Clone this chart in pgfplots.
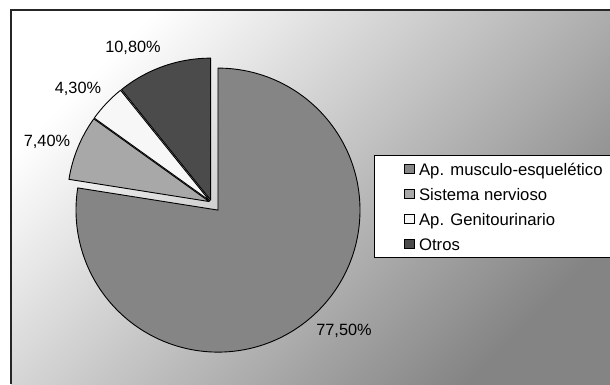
\documentclass[border=0pt]{standalone}
\usepackage{pgfplots}
\pgfplotsset{compat=1.18}
\usepackage{pgfplotstable}
\usepackage{fontspec}
\setmainfont{Liberation Sans}
\definecolor{cmain}{HTML}{858585}
\definecolor{cnerv}{HTML}{A8A8A8}
\definecolor{cgen}{HTML}{F7F7F7}
\definecolor{cotr}{HTML}{4B4B4B}
\definecolor{bgdark}{HTML}{848484}
\newcommand\pctfont{\fontsize{16.3bp}{20bp}\selectfont}
\newcommand\legfont{\fontsize{16.7bp}{20bp}\selectfont}
\newcommand\legtext[1]{\makebox[200bp][l]{\legfont #1}}

\pgfplotstableread{
name value explode col lx ly
main 77.5 10 cmain 344 53
nerv 7.4 2.5 cnerv 47 242
gen 4.3 2.5 cgen 78 295
otr 10.8 2.5 cotr 133 336
}\piedata

\begin{document}
\begin{tikzpicture}
\begin{axis}[
  width=610bp, height=384bp, scale only axis,
  xmin=0, xmax=610, ymin=0, ymax=384,
  hide axis, clip=false,
  legend style={at={(374/610,229/384)}, anchor=north west, draw=black, line width=0.8bp,
    fill=white, font=\legfont, inner xsep=4bp, inner ysep=1bp, row sep=0bp, column sep=5bp,
    nodes={inner sep=0pt, text height=19.5bp, text depth=5.5bp}},
  legend cell align=left,
  legend image code/.code={\path (-25bp,0bp); \draw[#1,draw=black,line width=0.6bp] (0bp,-4.5bp) rectangle (10bp,4.5bp);},
]
\coordinate (ll) at (axis cs:0,0);
\coordinate (ur) at (axis cs:610,384);
\fill[white] (axis cs:0,0) rectangle (axis cs:610,384);
\fill[top color=white, bottom color=bgdark, shading angle=45] (axis cs:11,0) rectangle (axis cs:610,374);
\draw[line width=1.5bp, black!85] (axis cs:11,0) -- (axis cs:11,374) -- (axis cs:610,374);
\def\cum{0}
\pgfplotsforeachungrouped \i in {0,1,2,3}{%
  \pgfplotstablegetelem{\i}{value}\of\piedata \let\pval\pgfplotsretval
  \pgfplotstablegetelem{\i}{explode}\of\piedata \let\pex\pgfplotsretval
  \pgfplotstablegetelem{\i}{col}\of\piedata \let\pcol\pgfplotsretval
  \pgfplotstablegetelem{\i}{lx}\of\piedata \let\plx\pgfplotsretval
  \pgfplotstablegetelem{\i}{ly}\of\piedata \let\ply\pgfplotsretval
  \pgfmathsetmacro\sa{90-3.6*\cum}%
  \pgfmathsetmacro\ea{90-3.6*(\cum+\pval)}%
  \pgfmathsetmacro\ma{(\sa+\ea)/2}%
  \pgfmathsetmacro\cx{211.5+\pex*cos(\ma)}%
  \pgfmathsetmacro\cy{181.5+\pex*sin(\ma)}%
  \edef\temp{\noexpand\filldraw[fill=\pcol, draw=black, line width=0.9bp, line join=round]
    (axis cs:\cx,\cy) -- ++(\sa:142bp) arc[start angle=\sa, end angle=\ea, radius=142bp] -- cycle;
    \noexpand\node[font=\noexpand\pctfont] at (axis cs:\plx,\ply)
    {\noexpand\pgfmathprintnumber[fixed,fixed zerofill,precision=2,use comma,assume math mode=true]{\pval}\noexpand\%};}%
  \temp
  \pgfmathsetmacro\cum{\cum+\pval}%
}
\addlegendimage{fill=cmain}\addlegendentry{\legtext{Ap. musculo-esquelético}}
\addlegendimage{fill=cnerv}\addlegendentry{\legtext{Sistema nervioso}}
\addlegendimage{fill=cgen}\addlegendentry{\legtext{Ap. Genitourinario}}
\addlegendimage{fill=cotr}\addlegendentry{\legtext{Otros}}
\end{axis}
\pgfresetboundingbox
\useasboundingbox (ll) rectangle (ur);
\end{tikzpicture}
\end{document}
